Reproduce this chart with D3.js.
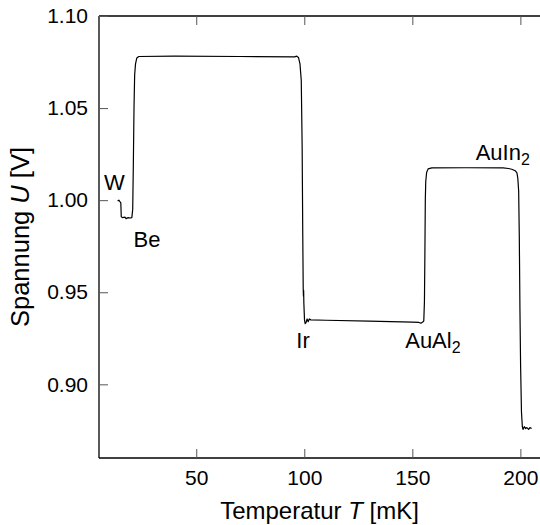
<!DOCTYPE html>
<html>
<head>
<meta charset="utf-8">
<script src="https://cdn.jsdelivr.net/npm/d3@7"></script>
<style>
  html, body { margin: 0; padding: 0; background: #fff; }
  svg text { font-family: "Liberation Sans", Arial, Helvetica, sans-serif; fill: #000; }
</style>
</head>
<body>
<svg id="chart" width="540" height="525"></svg>
<script>
// ---- data ----
const temperature = [13.6, 14.2, 14.8, 15.1, 15.3, 16.0, 17.0, 17.5, 18.5, 19.5, 20.2, 20.6, 20.9, 21.2, 21.5, 21.9, 22.5, 23.4,
  40, 70, 95.5, 96.5, 97.3, 98.0, 98.6, 99.0, 99.3, 99.5, 99.6, 99.7, 99.8, 100.1, 100.4, 100.8, 101.3, 101.8, 102.3, 103,
  110, 130, 150, 153, 154, 154.8, 155.3, 155.6, 155.8, 156.0, 156.2, 156.6, 157.3, 159, 175, 192, 194.5, 196, 197.6, 198.4,
  198.8, 199.2, 199.5, 199.8, 200.1, 200.5, 200.9, 201.2, 201.8, 202.4, 203.0, 203.8, 204.4, 205.2];
const voltage = [0.9995, 1.0000, 0.9990, 0.9985, 0.9910, 0.9905, 0.9908, 0.9900, 0.9905, 0.9903, 0.9905, 0.9950, 1.0200, 1.0500, 1.0680, 1.0740, 1.0772, 1.0780,
  1.0782, 1.0780, 1.0778, 1.0782, 1.0775, 1.0740, 1.0650, 1.0300, 0.9800, 0.9520, 0.9480, 0.9510, 0.9440, 0.9350, 0.9330, 0.9335, 0.9355, 0.9340, 0.9355, 0.9350,
  0.9348, 0.9343, 0.9338, 0.9336, 0.9332, 0.9338, 0.9345, 0.9450, 0.9700, 1.0000, 1.0100, 1.0150, 1.0170, 1.0175, 1.0176, 1.0175, 1.0172, 1.0168, 1.0160, 1.0148,
  1.0120, 1.0050, 0.9800, 0.9400, 0.9100, 0.8850, 0.8770, 0.8755, 0.8770, 0.8760, 0.8765, 0.8755, 0.8765, 0.8760];
const xTicks = [50, 100, 150, 200];
const yTicks = [0.90, 0.95, 1.00, 1.05, 1.10];
const annotations = [
  { label: "W", sub: "", t: 7.3, u: 1.0053 },
  { label: "Be", sub: "", t: 21.0, u: 0.9746 },
  { label: "Ir", sub: "", t: 96.3, u: 0.9200 },
  { label: "AuAl", sub: "2", t: 146.7, u: 0.9200 },
  { label: "AuIn", sub: "2", t: 179.3, u: 1.0218 }
];
const xTitle = ["Temperatur ", "T", " [mK]"];
const yTitle = ["Spannung ", "U", " [V]"];

// ---- layout ----
const svg = d3.select("#chart");
const mLeft = 99, mTop = 16, plotW = 443, plotH = 442;
const x = d3.scaleLinear().domain([5, 210]).range([mLeft, mLeft + plotW]);
const y = d3.scaleLinear().domain([0.86, 1.10]).range([mTop + plotH, mTop]);
const fs = 21;

// frame lines (left, bottom, top)
const g = svg.append("g");
g.append("line").attr("x1", mLeft).attr("x2", mLeft).attr("y1", mTop).attr("y2", mTop + plotH)
  .attr("stroke", "#000").attr("stroke-width", 1.3);
g.append("line").attr("x1", mLeft).attr("x2", mLeft + plotW).attr("y1", mTop + plotH).attr("y2", mTop + plotH)
  .attr("stroke", "#000").attr("stroke-width", 1.3);
g.append("line").attr("x1", mLeft).attr("x2", mLeft + plotW).attr("y1", mTop).attr("y2", mTop)
  .attr("stroke", "#000").attr("stroke-width", 1.3);

// axes with inward ticks
const xAxis = d3.axisBottom(x).tickValues(xTicks).tickSizeInner(-9).tickSizeOuter(0).tickPadding(12).tickFormat(d3.format("d"));
const gx = svg.append("g").attr("transform", `translate(0,${mTop + plotH})`).call(xAxis);
gx.select(".domain").remove();
gx.selectAll("text").attr("font-size", fs).attr("font-family", "Liberation Sans, Arial, sans-serif");
gx.selectAll(".tick line").attr("stroke", "#555");

const xAxisTop = d3.axisTop(x).tickValues(xTicks).tickSizeInner(-9).tickSizeOuter(0).tickFormat("");
const gxt = svg.append("g").attr("transform", `translate(0,${mTop})`).call(xAxisTop);
gxt.select(".domain").remove();
gxt.selectAll(".tick line").attr("stroke", "#555");

const yAxis = d3.axisLeft(y).tickValues(yTicks).tickSizeInner(-9).tickSizeOuter(0).tickPadding(11).tickFormat(d3.format(".2f"));
const gy = svg.append("g").attr("transform", `translate(${mLeft},0)`).call(yAxis);
gy.select(".domain").remove();
gy.selectAll("text").attr("font-size", fs).attr("font-family", "Liberation Sans, Arial, sans-serif");
gy.selectAll(".tick line").attr("stroke", "#555");

// data line
const pts = temperature.map((t, i) => [t, voltage[i]]);
svg.append("path").datum(pts)
  .attr("fill", "none").attr("stroke", "#000").attr("stroke-width", 1.2)
  .attr("stroke-linejoin", "round")
  .attr("d", d3.line().x(d => x(d[0])).y(d => y(d[1])));

// annotations
annotations.forEach(a => {
  const t = svg.append("text").attr("x", x(a.t)).attr("y", y(a.u)).attr("font-size", 22);
  t.append("tspan").text(a.label);
  if (a.sub) t.append("tspan").attr("font-size", 16).attr("dy", 5).text(a.sub);
});

// axis titles
const xt = svg.append("text").attr("x", mLeft + plotW / 2 - 1).attr("y", 519)
  .attr("text-anchor", "middle").attr("font-size", 24);
xt.append("tspan").text(xTitle[0]);
xt.append("tspan").attr("font-style", "italic").text(xTitle[1]);
xt.append("tspan").text(xTitle[2]);

const yt = svg.append("text").attr("transform", `translate(29,${mTop + plotH / 2}) rotate(-90)`)
  .attr("text-anchor", "middle").attr("font-size", 25.5);
yt.append("tspan").text(yTitle[0]);
yt.append("tspan").attr("font-style", "italic").text(yTitle[1]);
yt.append("tspan").text(yTitle[2]);
</script>
</body>
</html>
